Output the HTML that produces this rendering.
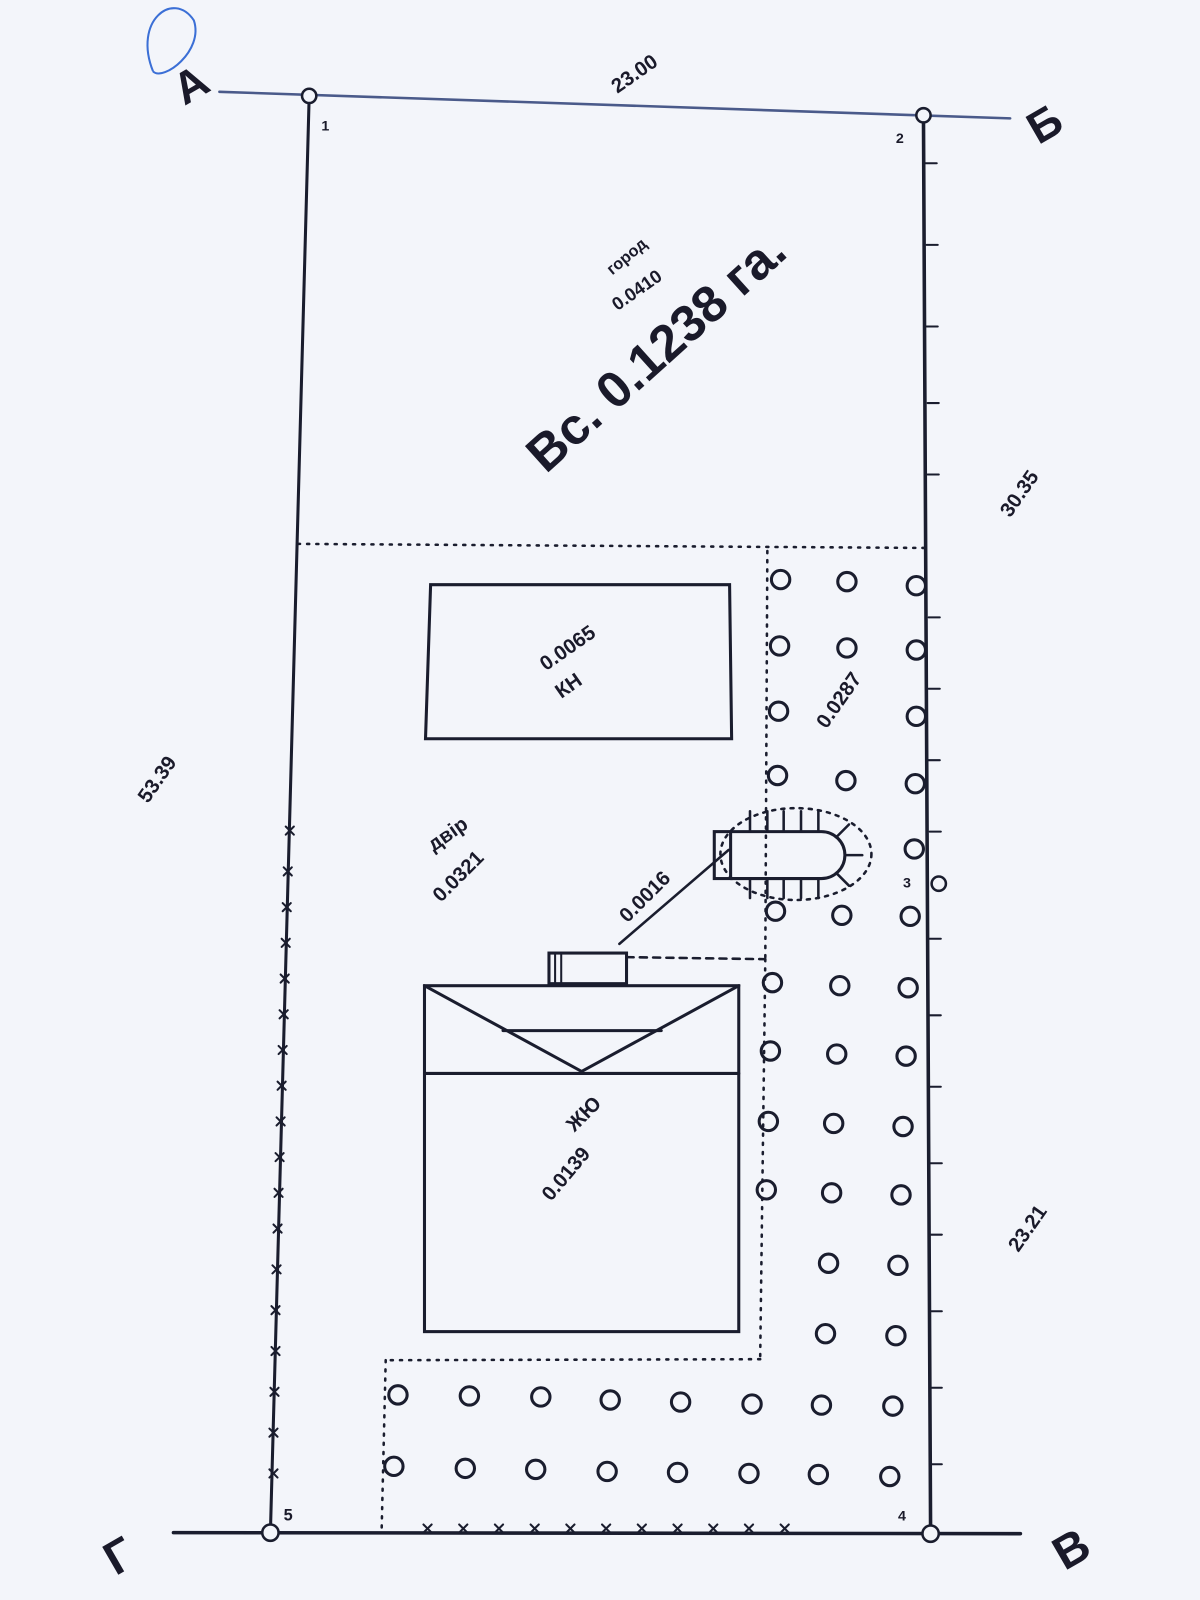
<!DOCTYPE html>
<html><head><meta charset="utf-8"><style>
html,body{margin:0;padding:0;background:#f3f5fa;}
svg{display:block}
text{font-family:"Liberation Sans","DejaVu Sans",sans-serif;fill:#1a1a2a;font-weight:bold}
</style></head><body>
<svg width="1200" height="1600" viewBox="0 0 1200 1600" xmlns="http://www.w3.org/2000/svg">
<rect width="1200" height="1600" fill="#f3f5fa"/>
<g transform="scale(1.0204)">
<g stroke="#1a1d2e" fill="none" stroke-linecap="round">
<line x1="215" y1="90" x2="990" y2="116" stroke="#4a5a8a" stroke-width="2.5"/>
<line x1="303" y1="94" x2="265" y2="1502" stroke-width="3"/>
<line x1="905" y1="113" x2="912" y2="1503" stroke-width="3.5"/>
<line x1="170" y1="1502" x2="1000" y2="1503" stroke-width="3.5"/>
<g stroke-width="2">
<line x1="907" y1="160" x2="918" y2="160"/><line x1="908" y1="240" x2="919" y2="240"/><line x1="908" y1="320" x2="919" y2="320"/><line x1="909" y1="395" x2="920" y2="395"/><line x1="909" y1="465" x2="920" y2="465"/><line x1="910" y1="605" x2="921" y2="605"/><line x1="910" y1="675" x2="921" y2="675"/><line x1="910" y1="745" x2="921" y2="745"/><line x1="911" y1="815" x2="922" y2="815"/><line x1="911" y1="920" x2="922" y2="920"/><line x1="911" y1="995" x2="922" y2="995"/><line x1="911" y1="1065" x2="922" y2="1065"/><line x1="912" y1="1140" x2="923" y2="1140"/><line x1="912" y1="1210" x2="923" y2="1210"/><line x1="912" y1="1285" x2="923" y2="1285"/><line x1="912" y1="1360" x2="923" y2="1360"/><line x1="912" y1="1435" x2="923" y2="1435"/>
</g>
<g stroke-width="2">
<path d="M280 810 l8 8 M280 818 l8 -8"/><path d="M278 850 l8 8 M278 858 l8 -8"/><path d="M277 885 l8 8 M277 893 l8 -8"/><path d="M276 920 l8 8 M276 928 l8 -8"/><path d="M275 955 l8 8 M275 963 l8 -8"/><path d="M274 990 l8 8 M274 998 l8 -8"/><path d="M273 1025 l8 8 M273 1033 l8 -8"/><path d="M272 1060 l8 8 M272 1068 l8 -8"/><path d="M271 1095 l8 8 M271 1103 l8 -8"/><path d="M270 1130 l8 8 M270 1138 l8 -8"/><path d="M269 1165 l8 8 M269 1173 l8 -8"/><path d="M268 1200 l8 8 M268 1208 l8 -8"/><path d="M267 1240 l8 8 M267 1248 l8 -8"/><path d="M266 1280 l8 8 M266 1288 l8 -8"/><path d="M266 1320 l8 8 M266 1328 l8 -8"/><path d="M265 1360 l8 8 M265 1368 l8 -8"/><path d="M264 1400 l8 8 M264 1408 l8 -8"/><path d="M264 1440 l8 8 M264 1448 l8 -8"/>
<path d="M415 1494 l8 8 M415 1502 l8 -8"/><path d="M450 1494 l8 8 M450 1502 l8 -8"/><path d="M485 1494 l8 8 M485 1502 l8 -8"/><path d="M520 1494 l8 8 M520 1502 l8 -8"/><path d="M555 1494 l8 8 M555 1502 l8 -8"/><path d="M590 1494 l8 8 M590 1502 l8 -8"/><path d="M625 1494 l8 8 M625 1502 l8 -8"/><path d="M660 1494 l8 8 M660 1502 l8 -8"/><path d="M695 1494 l8 8 M695 1502 l8 -8"/><path d="M730 1494 l8 8 M730 1502 l8 -8"/><path d="M765 1494 l8 8 M765 1502 l8 -8"/>
</g>
<g fill="#f3f5fa" stroke-width="2.5">
<circle cx="303" cy="94" r="7"/><circle cx="905" cy="113" r="7"/><circle cx="920" cy="866" r="7"/><circle cx="912" cy="1503" r="8"/><circle cx="265" cy="1502" r="8"/>
</g>
<g stroke-width="2.5" stroke-dasharray="2 7">
<line x1="292" y1="533" x2="910" y2="537"/>
<line x1="752" y1="540" x2="750" y2="940"/>
<line x1="750" y1="940" x2="745" y2="1330"/>
<line x1="745" y1="1332" x2="378" y2="1333"/>
<line x1="378" y1="1333" x2="374" y2="1500"/>
</g>
<line x1="614" y1="938" x2="750" y2="940" stroke-width="2.5" stroke-dasharray="7 6"/>
<polygon points="422,573 715,573 717,724 417,724" stroke-width="3"/>
<rect x="416" y="966" width="308" height="339" stroke-width="3"/>
<line x1="416" y1="1052" x2="724" y2="1052" stroke-width="3"/>
<polyline points="416,966 570,1050 724,966" stroke-width="3"/>
<line x1="493" y1="1010" x2="648" y2="1010" stroke-width="3"/>
<rect x="538" y="934" width="76" height="30" stroke-width="3"/>
<line x1="544" y1="934" x2="544" y2="964" stroke-width="2"/><line x1="550" y1="934" x2="550" y2="964" stroke-width="2"/>
<line x1="607" y1="925" x2="714" y2="833" stroke-width="2.5"/>
<ellipse cx="780" cy="837" rx="74" ry="45" stroke-width="2.5" stroke-dasharray="3 6"/>
<rect x="700" y="815" width="16" height="46" stroke-width="3"/>
<path d="M716 815 H805 A23 23 0 0 1 805 861 H716" stroke-width="3"/>
<g stroke-width="2.5">
<line x1="735" y1="815" x2="735" y2="795"/><line x1="752" y1="815" x2="752" y2="795"/><line x1="768" y1="815" x2="768" y2="795"/><line x1="785" y1="815" x2="785" y2="795"/><line x1="802" y1="815" x2="802" y2="795"/>
<line x1="735" y1="861" x2="735" y2="880"/><line x1="752" y1="861" x2="752" y2="880"/><line x1="768" y1="861" x2="768" y2="880"/><line x1="785" y1="861" x2="785" y2="880"/><line x1="802" y1="861" x2="802" y2="880"/>
<line x1="820" y1="820" x2="832" y2="808"/><line x1="828" y1="838" x2="845" y2="838"/><line x1="820" y1="856" x2="832" y2="868"/>
</g>
<g stroke-width="3">
<circle cx="765" cy="568" r="9"/><circle cx="830" cy="570" r="9"/><circle cx="898" cy="574" r="9"/>
<circle cx="764" cy="633" r="9"/><circle cx="830" cy="635" r="9"/><circle cx="898" cy="637" r="9"/>
<circle cx="763" cy="697" r="9"/><circle cx="898" cy="702" r="9"/>
<circle cx="762" cy="760" r="9"/><circle cx="829" cy="765" r="9"/><circle cx="897" cy="768" r="9"/>
<circle cx="896" cy="832" r="9"/>
<circle cx="760" cy="893" r="9"/><circle cx="825" cy="897" r="9"/><circle cx="892" cy="898" r="9"/>
<circle cx="757" cy="963" r="9"/><circle cx="823" cy="966" r="9"/><circle cx="890" cy="968" r="9"/>
<circle cx="755" cy="1030" r="9"/><circle cx="820" cy="1033" r="9"/><circle cx="888" cy="1035" r="9"/>
<circle cx="753" cy="1099" r="9"/><circle cx="817" cy="1101" r="9"/><circle cx="885" cy="1104" r="9"/>
<circle cx="751" cy="1166" r="9"/><circle cx="815" cy="1169" r="9"/><circle cx="883" cy="1171" r="9"/>
<circle cx="812" cy="1238" r="9"/><circle cx="880" cy="1240" r="9"/>
<circle cx="809" cy="1307" r="9"/><circle cx="878" cy="1309" r="9"/>
<circle cx="390" cy="1367" r="9"/><circle cx="460" cy="1368" r="9"/><circle cx="530" cy="1369" r="9"/><circle cx="598" cy="1372" r="9"/><circle cx="667" cy="1374" r="9"/><circle cx="737" cy="1376" r="9"/><circle cx="805" cy="1377" r="9"/><circle cx="875" cy="1378" r="9"/>
<circle cx="386" cy="1437" r="9"/><circle cx="456" cy="1439" r="9"/><circle cx="525" cy="1440" r="9"/><circle cx="595" cy="1442" r="9"/><circle cx="664" cy="1443" r="9"/><circle cx="734" cy="1444" r="9"/><circle cx="802" cy="1445" r="9"/><circle cx="872" cy="1447" r="9"/>
</g>
</g>
<path d="M150 70 C130 20 170 -10 190 20 C200 50 160 80 150 70" stroke="#3b6fd6" stroke-width="2" fill="none"/>
<text x="170" y="96" font-size="44" transform="rotate(-30 190 80)">А</text>
<text x="1005" y="135" font-size="44" transform="rotate(-30 1025 115)">Б</text>
<text x="1030" y="1530" font-size="46" transform="rotate(-30 1055 1510)">В</text>
<text x="100" y="1535" font-size="46" transform="rotate(-30 125 1515)">Г</text>
<text x="315" y="128" font-size="14">1</text>
<text x="878" y="140" font-size="14">2</text>
<text x="885" y="870" font-size="14">3</text>
<text x="880" y="1490" font-size="14">4</text>
<text x="278" y="1490" font-size="16">5</text>
<g font-size="20">
<text transform="translate(605,92) rotate(-35)">23.00</text>
<text transform="translate(990,508) rotate(-55)">30.35</text>
<text transform="translate(145,788) rotate(-55)">53.39</text>
<text transform="translate(998,1228) rotate(-55)">23.21</text>
<text transform="translate(580,1600) rotate(-30)">44</text>
<text transform="translate(600,270) rotate(-40)" font-size="16">город</text>
<text transform="translate(605,305) rotate(-35)" font-size="18">0.0410</text>
<text transform="translate(535,658) rotate(-35)">0.0065</text>
<text transform="translate(550,685) rotate(-35)">КН</text>
<text transform="translate(810,715) rotate(-55)">0.0287</text>
<text transform="translate(425,835) rotate(-35)">двір</text>
<text transform="translate(432,885) rotate(-45)">0.0321</text>
<text transform="translate(615,905) rotate(-45)">0.0016</text>
<text transform="translate(563,1110) rotate(-45)">ЖЮ</text>
<text transform="translate(540,1178) rotate(-50)">0.0139</text>
</g>
<text transform="translate(535,465) rotate(-42)" font-size="50" font-weight="normal">Вс. 0.1238 га.</text>
</g>
</svg>
</body></html>
